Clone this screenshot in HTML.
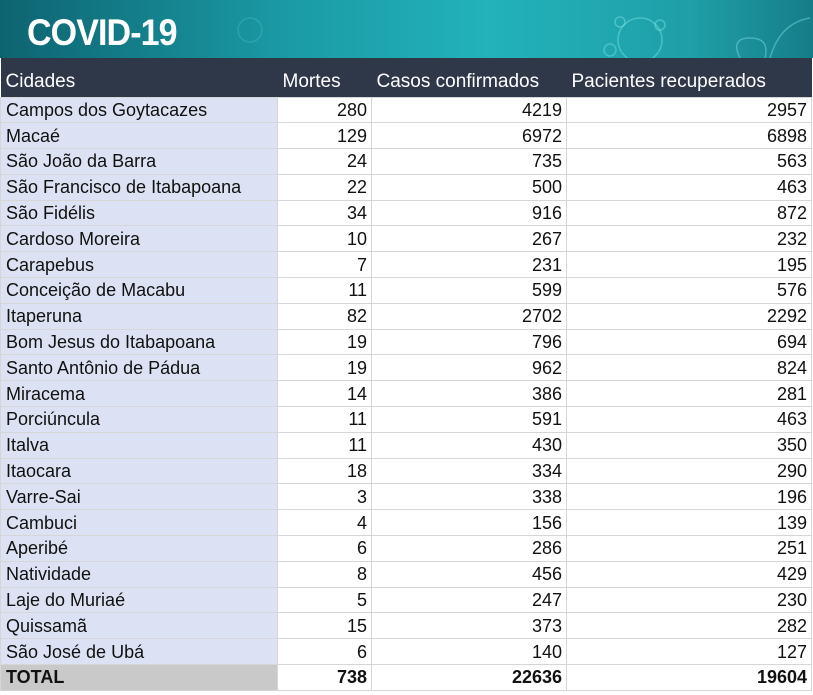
<!DOCTYPE html>
<html><head><meta charset="utf-8"><style>
body{margin:0;width:813px;height:695px;overflow:hidden;background:#fff;font-family:"Liberation Sans",sans-serif}
.ban{position:absolute;left:0;top:0;width:813px;height:58px;background:linear-gradient(90deg,#0d6470 0%,#1a9aa5 35%,#23b2ba 60%,#1f9fa8 85%,#157d88 100%)}
.ban .t{position:absolute;left:27px;top:12px;color:#fff;font-weight:bold;font-size:37px;letter-spacing:-1px;transform:scaleX(.92);transform-origin:left}
table{position:absolute;left:0;top:58px;border-collapse:collapse;table-layout:fixed;width:811px}
th{background:#2f3848;color:#fff;font-weight:normal;font-size:19px;height:39px;text-align:left;padding:10px 0 0 5px;box-sizing:border-box}
td{height:25.8px;font-size:18px;color:#111;border:1px solid #d6d6d6;padding:0 4px;box-sizing:border-box;text-align:right;white-space:nowrap;line-height:24px}
td:first-child{text-align:left;background:#dce2f3;padding-left:5px}
tr.tot td{font-weight:bold}
tr.tot td:first-child{background:#c9c9c9}
</style></head><body>
<div class="ban"><svg width="813" height="58" style="position:absolute;left:0;top:0" fill="none" stroke="#7fe3e6" stroke-opacity=".45" stroke-width="1.5"><circle cx="640" cy="40" r="22"/><circle cx="610" cy="50" r="6"/><circle cx="620" cy="22" r="5"/><circle cx="660" cy="25" r="5"/><path d="M770 58 q10-35 40-40"/><path d="M740 58 q-10-20 10-20 q20 0 15 20"/><circle cx="250" cy="30" r="12" stroke-opacity=".2"/></svg><div class="t">COVID-19</div></div>
<table>
<colgroup><col style="width:277px"><col style="width:94px"><col style="width:195px"><col style="width:245px"></colgroup>
<tr><th>Cidades</th><th>Mortes</th><th>Casos confirmados</th><th>Pacientes recuperados</th></tr>
<tr><td>Campos dos Goytacazes</td><td>280</td><td>4219</td><td>2957</td></tr>
<tr><td>Macaé</td><td>129</td><td>6972</td><td>6898</td></tr>
<tr><td>São João da Barra</td><td>24</td><td>735</td><td>563</td></tr>
<tr><td>São Francisco de Itabapoana</td><td>22</td><td>500</td><td>463</td></tr>
<tr><td>São Fidélis</td><td>34</td><td>916</td><td>872</td></tr>
<tr><td>Cardoso Moreira</td><td>10</td><td>267</td><td>232</td></tr>
<tr><td>Carapebus</td><td>7</td><td>231</td><td>195</td></tr>
<tr><td>Conceição de Macabu</td><td>11</td><td>599</td><td>576</td></tr>
<tr><td>Itaperuna</td><td>82</td><td>2702</td><td>2292</td></tr>
<tr><td>Bom Jesus do Itabapoana</td><td>19</td><td>796</td><td>694</td></tr>
<tr><td>Santo Antônio de Pádua</td><td>19</td><td>962</td><td>824</td></tr>
<tr><td>Miracema</td><td>14</td><td>386</td><td>281</td></tr>
<tr><td>Porciúncula</td><td>11</td><td>591</td><td>463</td></tr>
<tr><td>Italva</td><td>11</td><td>430</td><td>350</td></tr>
<tr><td>Itaocara</td><td>18</td><td>334</td><td>290</td></tr>
<tr><td>Varre-Sai</td><td>3</td><td>338</td><td>196</td></tr>
<tr><td>Cambuci</td><td>4</td><td>156</td><td>139</td></tr>
<tr><td>Aperibé</td><td>6</td><td>286</td><td>251</td></tr>
<tr><td>Natividade</td><td>8</td><td>456</td><td>429</td></tr>
<tr><td>Laje do Muriaé</td><td>5</td><td>247</td><td>230</td></tr>
<tr><td>Quissamã</td><td>15</td><td>373</td><td>282</td></tr>
<tr><td>São José de Ubá</td><td>6</td><td>140</td><td>127</td></tr>
<tr class="tot"><td>TOTAL</td><td>738</td><td>22636</td><td>19604</td></tr>
</table>
</body></html>
